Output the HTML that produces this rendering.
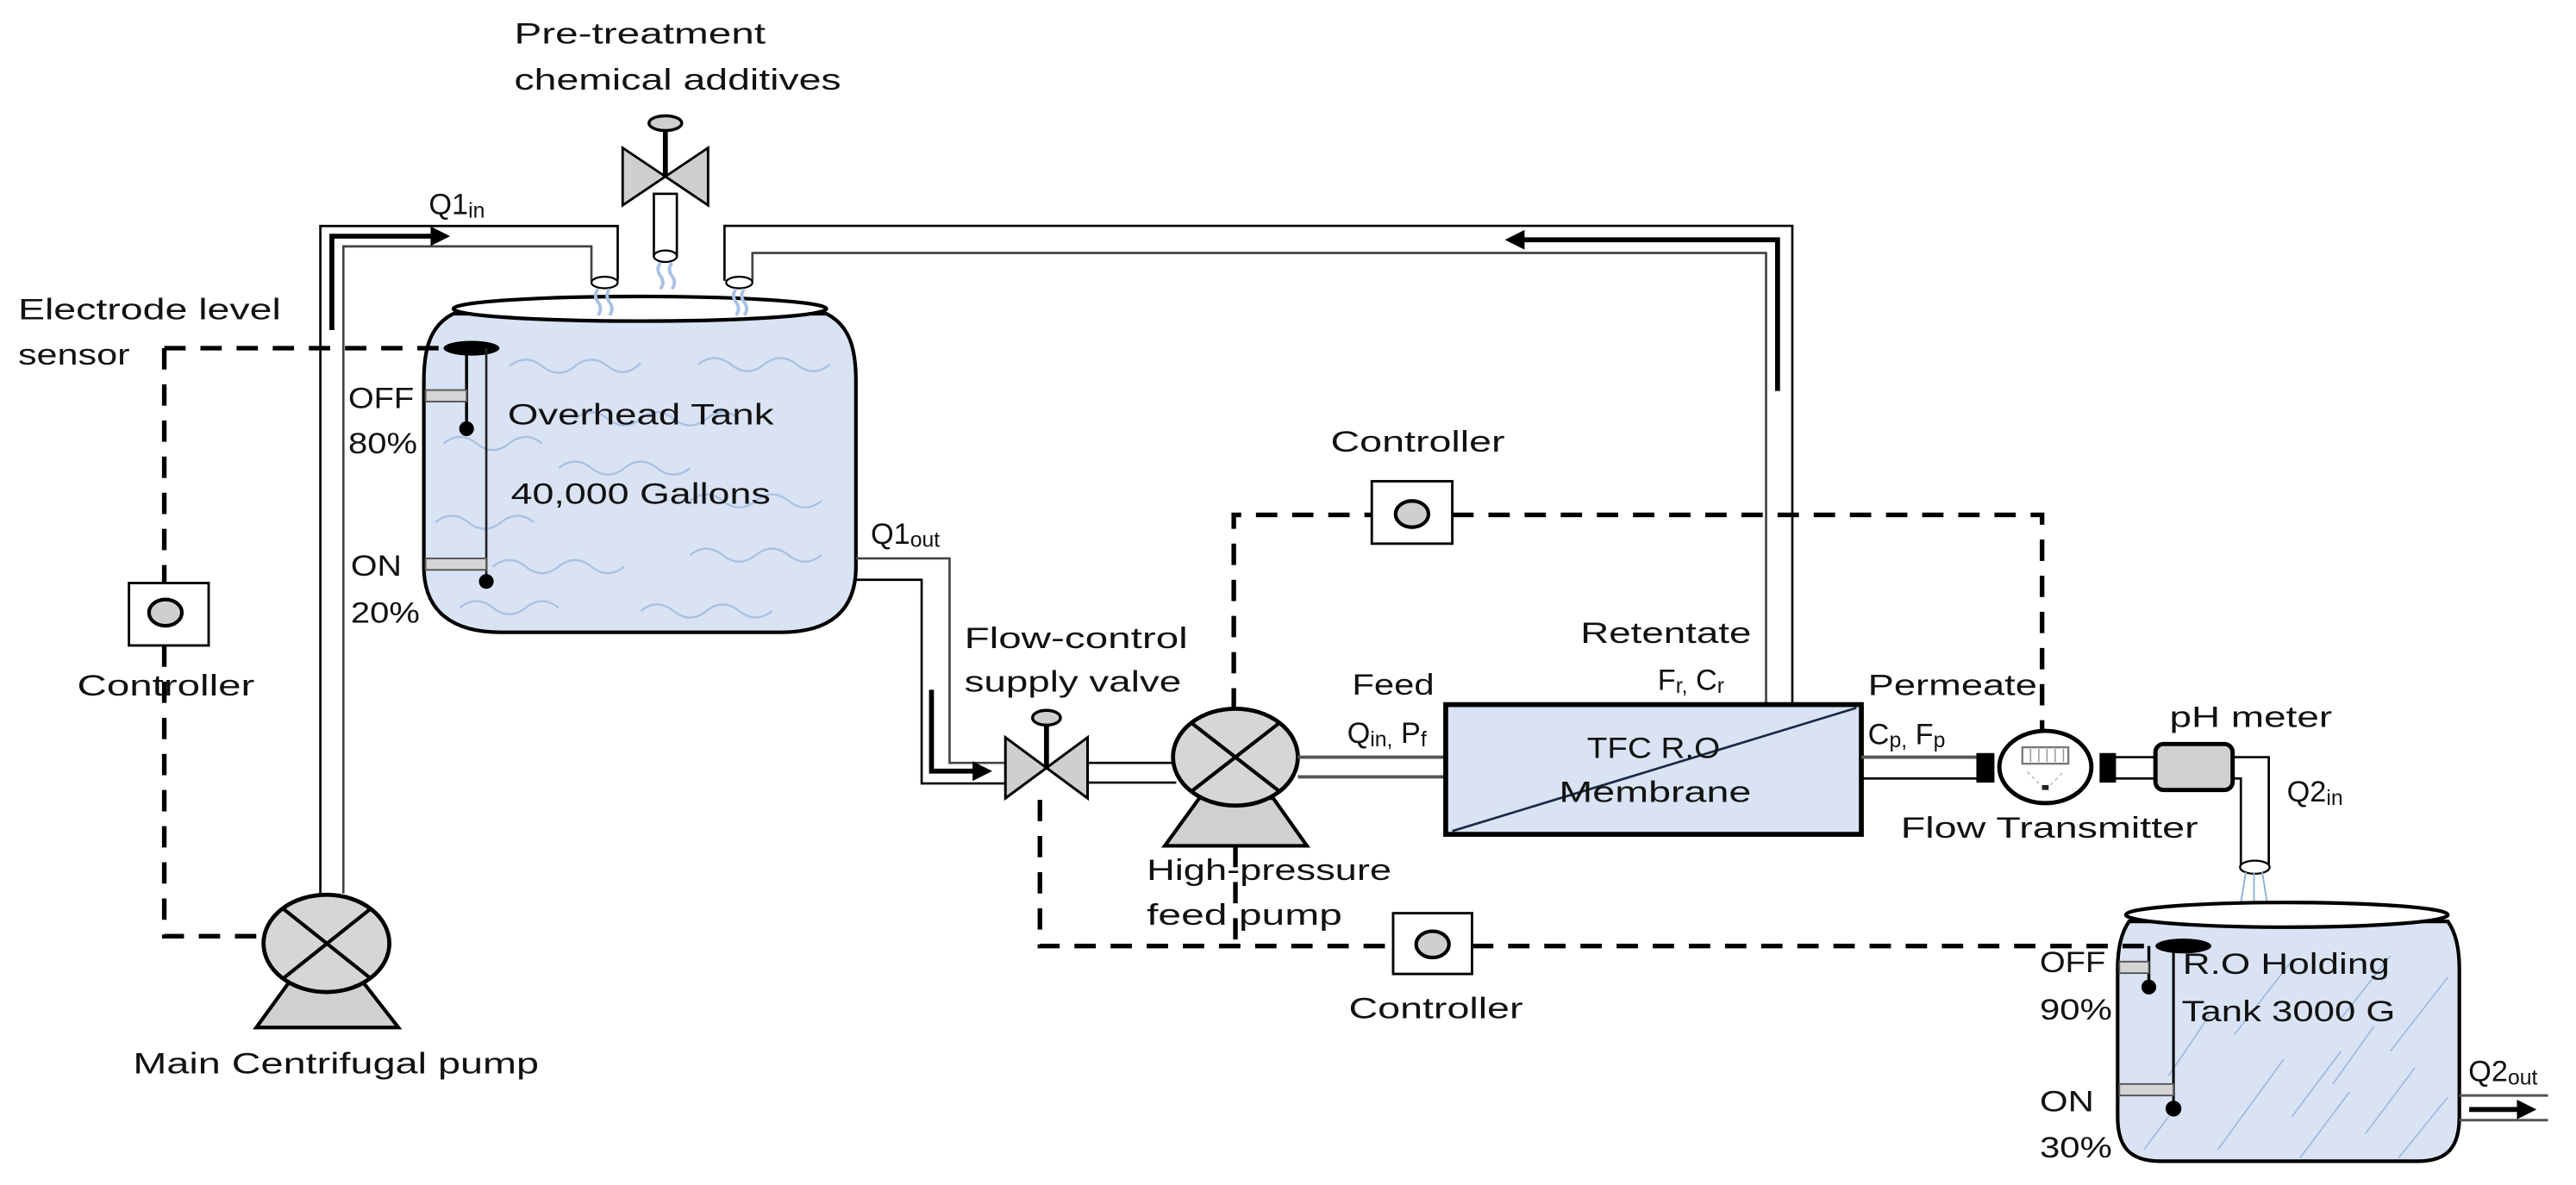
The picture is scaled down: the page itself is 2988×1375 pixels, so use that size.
<!DOCTYPE html>
<html><head><meta charset="utf-8"><style>
html,body{margin:0;padding:0;background:#fff;}
svg{display:block;}
text{font-family:"Liberation Sans",sans-serif;fill:#111;font-size:18px;}
</style></head><body>
<svg width="2988" height="1375" viewBox="0 0 1568 721.5" preserveAspectRatio="none" xmlns="http://www.w3.org/2000/svg">
<defs>
<marker id="ah" markerWidth="4" markerHeight="4" refX="2" refY="2" orient="auto" markerUnits="strokeWidth"><path d="M0,0 L4,2 L0,4 Z" fill="#000"/></marker>
</defs>
<rect width="1568" height="721.5" fill="#fff"/>

<!-- ===== Overhead tank ===== -->
<path d="M276,191 C262,198 258,212 258,232 L258,345 C258,372 275,385 305,385 L475,385 C505,385 521,372 521,345 L521,232 C521,212 517,198 503,191 Z" fill="#d9e3f3" stroke="#000" stroke-width="2.2"/>
<ellipse cx="389.5" cy="188" rx="113.5" ry="7.5" fill="#fff" stroke="#000" stroke-width="2.2"/>
<g fill="none" stroke="#a9c1e3" stroke-width="1.2">
<path d="M310,223 q10,-8 20,0 t20,0 t20,0 t20,-2"/>
<path d="M425,222 q10,-8 20,0 t20,0 t20,0 t20,0"/>
<path d="M270,270 q10,-8 20,0 t20,0 t20,0"/>
<path d="M350,255 q10,-8 20,0 t20,0 t20,0 t20,0 t20,0"/>
<path d="M340,285 q10,-8 20,0 t20,0 t20,0 t20,0"/>
<path d="M265,318 q10,-8 20,0 t20,0 t20,0"/>
<path d="M420,305 q10,-8 20,0 t20,0 t20,0 t20,0"/>
<path d="M300,345 q10,-8 20,0 t20,0 t20,0 t20,0"/>
<path d="M420,338 q10,-8 20,0 t20,0 t20,0 t20,0"/>
<path d="M280,370 q10,-8 20,0 t20,0 t20,0"/>
<path d="M390,372 q10,-8 20,0 t20,0 t20,0 t20,0"/>
</g>
<!-- electrode -->
<line x1="100" y1="212" x2="270" y2="212" stroke="#000" stroke-width="2.8" stroke-dasharray="13,9"/>
<ellipse cx="287" cy="212" rx="17" ry="4.5" fill="#000"/>
<line x1="284" y1="212" x2="284" y2="261" stroke="#000" stroke-width="1.8"/>
<line x1="296" y1="212" x2="296" y2="354" stroke="#222" stroke-width="1.4"/>
<circle cx="284" cy="261" r="4.5" fill="#000"/>
<circle cx="296" cy="354" r="4.5" fill="#000"/>
<rect x="259" y="237.5" width="25" height="7" fill="#d4d4d4" stroke="#555" stroke-width="1"/>
<rect x="259" y="340" width="37" height="7" fill="#d4d4d4" stroke="#555" stroke-width="1"/>

<!-- left controller -->
<line x1="100" y1="212" x2="100" y2="355" stroke="#000" stroke-width="2.8" stroke-dasharray="13,9"/>
<rect x="78.5" y="355" width="48.5" height="38" fill="#fff" stroke="#000" stroke-width="1.5"/>
<ellipse cx="100.7" cy="373" rx="10" ry="8" fill="#cfcfcf" stroke="#000" stroke-width="2.2"/>
<path d="M100,393 L100,570 L160,570" fill="none" stroke="#000" stroke-width="2.8" stroke-dasharray="13,9"/>

<!-- Q1in pipe -->
<path d="M195,544 L195,137.6 L376,137.6 L376,171" fill="none" stroke="#000" stroke-width="1.4"/>
<path d="M209,544 L209,150 L360,150 L360,171" fill="none" stroke="#444" stroke-width="1.4"/>
<path d="M202,201 L202,143.8 L268,143.8" fill="none" stroke="#000" stroke-width="3" marker-end="url(#ah)"/>
<ellipse cx="368" cy="172" rx="8" ry="3.5" fill="#fff" stroke="#000" stroke-width="1.2"/>

<!-- chemical valve -->
<rect x="398" y="118" width="14" height="38" fill="#fff" stroke="#000" stroke-width="1.4"/>
<ellipse cx="405" cy="156" rx="7" ry="3.5" fill="#fff" stroke="#000" stroke-width="1.2"/>
<polygon points="379,90 405,107.5 379,125" fill="#cfcfcf" stroke="#000" stroke-width="1.5"/>
<polygon points="431,90 405,107.5 431,125" fill="#cfcfcf" stroke="#000" stroke-width="1.5"/>
<line x1="405" y1="75" x2="405" y2="108" stroke="#000" stroke-width="3"/>
<ellipse cx="405" cy="75" rx="10" ry="4.5" fill="#cfcfcf" stroke="#000" stroke-width="1.8"/>

<!-- return pipe -->
<path d="M441,171 L441,137.5 L1091,137.5 L1091,429" fill="none" stroke="#000" stroke-width="1.4"/>
<path d="M458,171 L458,154 L1075,154 L1075,429" fill="none" stroke="#444" stroke-width="1.4"/>
<path d="M1082,238 L1082,146 L922,146" fill="none" stroke="#000" stroke-width="3" marker-end="url(#ah)"/>
<ellipse cx="450" cy="172" rx="8" ry="3.5" fill="#fff" stroke="#000" stroke-width="1.2"/>
<!-- drips -->
<g fill="none" stroke="#a9c1e3" stroke-width="2">
<path d="M364,176 q-3,4 0,8 t0,8"/><path d="M371,176 q-3,4 0,8 t0,8"/>
<path d="M402,160 q-3,4 0,8 t0,8"/><path d="M409,160 q-3,4 0,8 t0,8"/>
<path d="M448,176 q-3,4 0,8 t0,8"/><path d="M453,176 q-3,4 0,8 t0,8"/>
</g>

<!-- Main pump -->
<polygon points="176,598 221,598 242.5,625.6 156,625.6" fill="#d0d0d0" stroke="#000" stroke-width="2.2"/>
<ellipse cx="198.7" cy="574.4" rx="38.3" ry="29.6" fill="#d6d6d6" stroke="#000" stroke-width="2.5"/>
<line x1="172" y1="553" x2="226" y2="596" stroke="#000" stroke-width="2.2"/>
<line x1="226" y1="553" x2="172" y2="596" stroke="#000" stroke-width="2.2"/>

<!-- Q1out pipe -->
<path d="M521,340 L578,340 L578,464.5 L612,464.5" fill="none" stroke="#444" stroke-width="1.4"/>
<path d="M521,353 L561,353 L561,477 L612,477" fill="none" stroke="#000" stroke-width="1.4"/>
<path d="M567,420 L567,469.5 L598,469.5" fill="none" stroke="#000" stroke-width="3" marker-end="url(#ah)"/>

<!-- flow control valve -->
<polygon points="612,449 637,467.5 612,486" fill="#cfcfcf" stroke="#000" stroke-width="1.6"/>
<polygon points="662,449 637,467.5 662,486" fill="#cfcfcf" stroke="#000" stroke-width="1.6"/>
<line x1="637" y1="437" x2="637" y2="468" stroke="#000" stroke-width="3"/>
<ellipse cx="637" cy="437" rx="8.5" ry="4.5" fill="#cfcfcf" stroke="#000" stroke-width="1.8"/>
<line x1="662" y1="464.5" x2="716" y2="464.5" stroke="#000" stroke-width="1.4"/>
<line x1="662" y1="476.5" x2="716" y2="476.5" stroke="#000" stroke-width="1.4"/>

<!-- HP pump -->
<polygon points="730,486 775,486 795.5,515 709,515" fill="#d0d0d0" stroke="#000" stroke-width="2.2"/>
<ellipse cx="752" cy="461" rx="38" ry="29.5" fill="#d6d6d6" stroke="#000" stroke-width="2.5"/>
<line x1="725" y1="440" x2="779" y2="482" stroke="#000" stroke-width="2.2"/>
<line x1="779" y1="440" x2="725" y2="482" stroke="#000" stroke-width="2.2"/>
<line x1="790" y1="461" x2="880" y2="461" stroke="#555" stroke-width="2"/>
<line x1="790" y1="473" x2="880" y2="473" stroke="#555" stroke-width="2"/>

<!-- membrane -->
<rect x="880" y="429" width="253" height="79" fill="#d9e3f3" stroke="#000" stroke-width="3"/>
<line x1="884" y1="506" x2="1130" y2="431" stroke="#1a2a44" stroke-width="1.4"/>

<!-- permeate line -->
<line x1="1133" y1="461" x2="1203" y2="461" stroke="#555" stroke-width="2"/>
<line x1="1133" y1="474" x2="1203" y2="474" stroke="#000" stroke-width="1.4"/>
<rect x="1203" y="458.5" width="11" height="18" fill="#000"/>
<rect x="1278" y="458.5" width="10" height="18" fill="#000"/>
<ellipse cx="1245" cy="467" rx="28" ry="22" fill="#fff" stroke="#000" stroke-width="2.6"/>
<rect x="1231" y="455" width="28" height="10" fill="#fff" stroke="#777" stroke-width="1.2"/>
<g stroke="#999" stroke-width="0.8"><line x1="1236" y1="456" x2="1236" y2="464"/><line x1="1241" y1="456" x2="1241" y2="464"/><line x1="1246" y1="456" x2="1246" y2="464"/><line x1="1251" y1="456" x2="1251" y2="464"/><line x1="1256" y1="456" x2="1256" y2="464"/></g>
<path d="M1234,470 L1245,481 L1256,470" fill="none" stroke="#bbb" stroke-width="0.8" stroke-dasharray="2,2"/>
<rect x="1243" y="478" width="4" height="3" fill="#222"/>
<line x1="1288" y1="461" x2="1312" y2="461" stroke="#000" stroke-width="1.4"/>
<line x1="1288" y1="474" x2="1312" y2="474" stroke="#000" stroke-width="1.4"/>
<rect x="1312" y="453" width="47" height="28" rx="5" fill="#d0d0d0" stroke="#000" stroke-width="2.6"/>
<path d="M1359,461 L1381,461 L1381,528" fill="none" stroke="#000" stroke-width="1.4"/>
<path d="M1359,474 L1364,474 L1364,528" fill="none" stroke="#000" stroke-width="1.4"/>
<ellipse cx="1372.5" cy="528" rx="9" ry="4" fill="#fff" stroke="#000" stroke-width="1.2"/>
<g stroke="#8fb0dc" stroke-width="1"><line x1="1367" y1="531" x2="1363" y2="556"/><line x1="1372" y1="531" x2="1372" y2="556"/><line x1="1377" y1="531" x2="1381" y2="556"/></g>

<!-- holding tank -->
<path d="M1296,561 C1291,568 1289,578 1289,590 L1289,680 C1289,698 1296,707 1315,707 L1472,707 C1490,707 1497,698 1497,680 L1497,590 C1497,578 1495,568 1490,561 Z" fill="#d9e3f3" stroke="#000" stroke-width="2.2"/>
<ellipse cx="1392" cy="557" rx="98" ry="7.5" fill="#fff" stroke="#000" stroke-width="2.2"/>
<g stroke="#9fbbe0" stroke-width="0.9">
<line x1="1320" y1="655" x2="1345" y2="618"/><line x1="1350" y1="700" x2="1390" y2="645"/><line x1="1360" y1="630" x2="1395" y2="585"/>
<line x1="1395" y1="680" x2="1425" y2="640"/><line x1="1400" y1="705" x2="1430" y2="665"/><line x1="1425" y1="620" x2="1455" y2="582"/>
<line x1="1440" y1="690" x2="1470" y2="650"/><line x1="1455" y1="640" x2="1490" y2="595"/><line x1="1305" y1="700" x2="1320" y2="680"/>
<line x1="1420" y1="660" x2="1445" y2="625"/><line x1="1460" y1="705" x2="1490" y2="668"/>
</g>
<ellipse cx="1329" cy="576" rx="17" ry="4.5" fill="#000"/>
<line x1="1308" y1="576" x2="1308" y2="601" stroke="#000" stroke-width="1.8"/>
<line x1="1323" y1="576" x2="1323" y2="675" stroke="#000" stroke-width="1.6"/>
<circle cx="1308" cy="601" r="4.5" fill="#000"/>
<circle cx="1323" cy="675" r="4.8" fill="#000"/>
<rect x="1290" y="585.5" width="18" height="7" fill="#d4d4d4" stroke="#555" stroke-width="1"/>
<rect x="1290" y="660" width="33" height="7" fill="#d4d4d4" stroke="#555" stroke-width="1"/>
<line x1="1497" y1="667" x2="1551" y2="667" stroke="#555" stroke-width="1.6"/>
<line x1="1497" y1="682" x2="1551" y2="682" stroke="#555" stroke-width="1.6"/>
<line x1="1503" y1="675.5" x2="1538" y2="675.5" stroke="#000" stroke-width="3" marker-end="url(#ah)"/>

<!-- controllers / dashed signal lines -->
<path d="M751,432 L751,313.5 L835,313.5" fill="none" stroke="#000" stroke-width="2.8" stroke-dasharray="13,9"/>
<path d="M884,313.5 L1243,313.5 L1243,445" fill="none" stroke="#000" stroke-width="2.8" stroke-dasharray="13,9"/>
<rect x="835" y="293" width="49" height="38" fill="#fff" stroke="#000" stroke-width="1.5"/>
<ellipse cx="859.5" cy="313" rx="10" ry="8" fill="#cfcfcf" stroke="#000" stroke-width="2.2"/>
<path d="M633,487 L633,576 L848,576" fill="none" stroke="#000" stroke-width="2.8" stroke-dasharray="13,9"/>
<line x1="752" y1="515" x2="752" y2="576" stroke="#000" stroke-width="2.8" stroke-dasharray="13,9"/>
<line x1="896" y1="576" x2="1312" y2="576" stroke="#000" stroke-width="2.8" stroke-dasharray="13,9"/>
<rect x="848" y="556" width="48" height="37" fill="#fff" stroke="#000" stroke-width="1.5"/>
<ellipse cx="872" cy="575" rx="10" ry="8" fill="#cfcfcf" stroke="#000" stroke-width="2.2"/>

<!-- ===== Text ===== -->
<text x="313" y="26.5" textLength="153" lengthAdjust="spacingAndGlyphs">Pre-treatment</text>
<text x="313" y="54.7" textLength="199" lengthAdjust="spacingAndGlyphs">chemical additives</text>
<text x="261" y="130.5">Q1<tspan font-size="13" dy="2">in</tspan></text>
<text x="11" y="194.5" textLength="160" lengthAdjust="spacingAndGlyphs">Electrode level</text>
<text x="11" y="222" textLength="68" lengthAdjust="spacingAndGlyphs">sensor</text>
<text x="212" y="248.5" textLength="40" lengthAdjust="spacingAndGlyphs">OFF</text>
<text x="212" y="276" textLength="42" lengthAdjust="spacingAndGlyphs">80%</text>
<text x="213.5" y="350.6" textLength="31" lengthAdjust="spacingAndGlyphs">ON</text>
<text x="213.5" y="379" textLength="42" lengthAdjust="spacingAndGlyphs">20%</text>
<text x="309" y="258.5" textLength="162" lengthAdjust="spacingAndGlyphs">Overhead Tank</text>
<text x="311" y="306.7" textLength="158" lengthAdjust="spacingAndGlyphs">40,000 Gallons</text>
<text x="530" y="331">Q1<tspan font-size="13" dy="2">out</tspan></text>
<text x="47" y="423.5" textLength="108" lengthAdjust="spacingAndGlyphs">Controller</text>
<text x="81" y="653.6" textLength="247" lengthAdjust="spacingAndGlyphs">Main Centrifugal pump</text>
<text x="810" y="275" textLength="106" lengthAdjust="spacingAndGlyphs">Controller</text>
<text x="587" y="394.7" textLength="136" lengthAdjust="spacingAndGlyphs">Flow-control</text>
<text x="587" y="421" textLength="132" lengthAdjust="spacingAndGlyphs">supply valve</text>
<text x="823" y="423" textLength="50" lengthAdjust="spacingAndGlyphs">Feed</text>
<text x="820" y="452.4">Q<tspan font-size="13" dy="2">in,</tspan><tspan dy="-2"> P</tspan><tspan font-size="13" dy="2">f</tspan></text>
<text x="962" y="391.5" textLength="104" lengthAdjust="spacingAndGlyphs">Retentate</text>
<text x="1009" y="420">F<tspan font-size="13" dy="2">r,</tspan><tspan dy="-2"> C</tspan><tspan font-size="13" dy="2">r</tspan></text>
<text x="966" y="461.5" textLength="81" lengthAdjust="spacingAndGlyphs">TFC R.O</text>
<text x="949" y="488.3" textLength="117" lengthAdjust="spacingAndGlyphs">Membrane</text>
<text x="698" y="535.8" textLength="149" lengthAdjust="spacingAndGlyphs">High-pressure</text>
<text x="698" y="563" textLength="119" lengthAdjust="spacingAndGlyphs">feed pump</text>
<text x="821" y="620" textLength="106" lengthAdjust="spacingAndGlyphs">Controller</text>
<text x="1137" y="423.3" textLength="103" lengthAdjust="spacingAndGlyphs">Permeate</text>
<text x="1137" y="453">C<tspan font-size="13" dy="2">p,</tspan><tspan dy="-2"> F</tspan><tspan font-size="13" dy="2">p</tspan></text>
<text x="1320.6" y="442.5" textLength="99" lengthAdjust="spacingAndGlyphs">pH meter</text>
<text x="1392" y="488">Q2<tspan font-size="13" dy="2">in</tspan></text>
<text x="1157" y="510" textLength="181" lengthAdjust="spacingAndGlyphs">Flow Transmitter</text>
<text x="1241.6" y="592" textLength="40" lengthAdjust="spacingAndGlyphs">OFF</text>
<text x="1241.6" y="620.8" textLength="44" lengthAdjust="spacingAndGlyphs">90%</text>
<text x="1241.6" y="676.7" textLength="33" lengthAdjust="spacingAndGlyphs">ON</text>
<text x="1241.6" y="704.6" textLength="44" lengthAdjust="spacingAndGlyphs">30%</text>
<text x="1328.6" y="593" textLength="126" lengthAdjust="spacingAndGlyphs">R.O Holding</text>
<text x="1328" y="621.8" textLength="130" lengthAdjust="spacingAndGlyphs">Tank 3000 G</text>
<text x="1502.5" y="658.4">Q2<tspan font-size="13" dy="2">out</tspan></text>
</svg>
</body></html>
